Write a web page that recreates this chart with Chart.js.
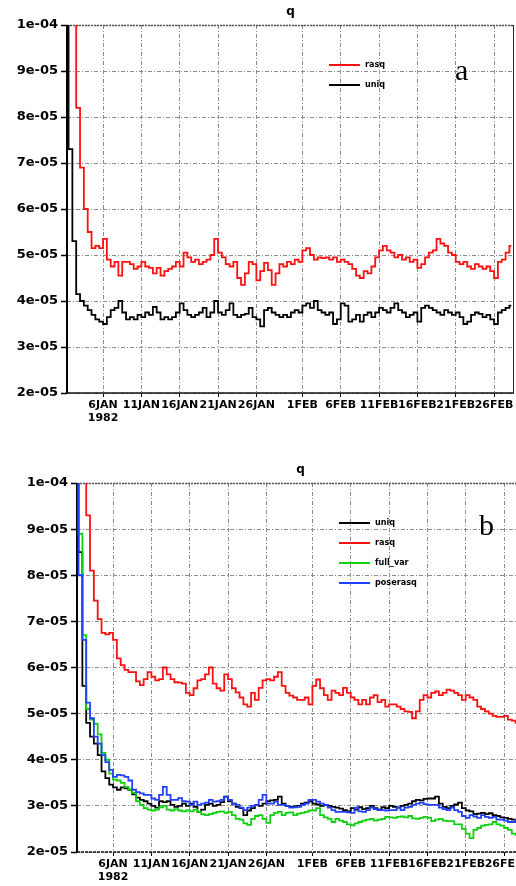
<!DOCTYPE html>
<html><head><meta charset="utf-8">
<script src="https://cdn.jsdelivr.net/npm/chart.js@4/dist/chart.umd.min.js"></script>
<style>
html,body{margin:0;padding:0;background:#fff;overflow:hidden;width:516px;height:886px}
#wrap{position:relative;width:516px;height:886px;overflow:hidden;background:#fff}
canvas{position:absolute;left:0}
#ca{top:0}
#cb{top:440px}
</style></head><body>
<div id="wrap"><canvas id="ca" width="516" height="430"></canvas><canvas id="cb" width="530" height="446"></canvas></div>
<script>
// values below are given in units of 1e-5 (specific humidity q)
const UNIT = 1e-5;
// sampling: every 12 h, first sample at day 0.25 after 1 JAN 1982 00Z
const START_DAY = 0.25, STEP_DAY = 0.5;
const X_MIN = 0.3, X_MAX = 58.6;
const TICK_DAYS = [5, 10, 15, 20, 25, 31, 36, 41, 46, 51, 56];
const TICK_LABELS = [['6JAN', '1982'], '11JAN', '16JAN', '21JAN', '26JAN', '1FEB', '6FEB', '11FEB', '16FEB', '21FEB', '26FEB'];
const Y_TICK_VALUES = [2e-5, 3e-5, 4e-5, 5e-5, 6e-5, 7e-5, 8e-5, 9e-5, 1e-4];
const Y_TICK_LABELS = ['2e-05', '3e-05', '4e-05', '5e-05', '6e-05', '7e-05', '8e-05', '9e-05', '1e-04'];
const TITLE = 'q';

// panel a
const A_NAMES = ['rasq', 'uniq'];
const A_RASQ = [12, 11, 10.1, 8.2, 6.9, 6.0, 5.5, 5.15, 5.2, 5.15,
  5.35, 4.9, 4.75, 4.85, 4.55, 4.85, 4.85, 4.8, 4.7, 4.75,
  4.85, 4.75, 4.72, 4.6, 4.72, 4.55, 4.65, 4.7, 4.75, 4.85,
  4.75, 5.05, 4.95, 4.85, 4.9, 4.8, 4.85, 4.9, 5.0, 5.35,
  5.05, 4.95, 4.8, 4.75, 4.85, 4.5, 4.35, 4.6, 4.85, 4.8,
  4.45, 4.65, 4.83, 4.67, 4.35, 4.6, 4.8, 4.75, 4.85, 4.8,
  4.9, 4.85, 5.1, 5.15, 5.0, 4.9, 4.95, 4.93, 4.95, 4.9,
  4.95, 4.85, 4.9, 4.85, 4.8, 4.7, 4.55, 4.5, 4.65, 4.6,
  4.75, 4.95, 5.1, 5.2, 5.1, 5.05, 4.95, 5.0, 4.9, 4.95,
  4.85, 4.9, 4.72, 4.8, 4.95, 5.05, 5.1, 5.35, 5.25, 5.2,
  5.05, 5.0, 4.85, 4.8, 4.85, 4.75, 4.7, 4.8, 4.75, 4.7,
  4.75, 4.65, 4.5, 4.85, 4.9, 5.05, 5.2];
const A_UNIQ = [11, 7.3, 5.3, 4.15, 4.0, 3.9, 3.8, 3.7, 3.6, 3.55,
  3.5, 3.65, 3.8, 3.85, 4.0, 3.75, 3.6, 3.65, 3.6, 3.7,
  3.65, 3.75, 3.7, 3.87, 3.75, 3.6, 3.65, 3.6, 3.65, 3.75,
  3.95, 3.8, 3.7, 3.65, 3.7, 3.75, 3.85, 3.65, 3.75, 4.0,
  3.75, 3.7, 3.8, 3.95, 3.7, 3.65, 3.7, 3.72, 3.85, 3.65,
  3.6, 3.45, 3.8, 3.85, 3.75, 3.7, 3.65, 3.7, 3.65, 3.75,
  3.8, 3.75, 3.9, 3.95, 3.85, 4.0, 3.8, 3.75, 3.7, 3.75,
  3.5, 3.6, 3.95, 3.9, 3.55, 3.6, 3.7, 3.55, 3.7, 3.75,
  3.65, 3.75, 3.85, 3.8, 3.75, 3.85, 3.95, 3.8, 3.75, 3.65,
  3.7, 3.75, 3.55, 3.85, 3.9, 3.85, 3.8, 3.75, 3.7, 3.8,
  3.75, 3.7, 3.75, 3.65, 3.5, 3.55, 3.7, 3.75, 3.72, 3.65,
  3.7, 3.6, 3.5, 3.75, 3.8, 3.85, 3.9];

// panel b
const B_NAMES = ['uniq', 'rasq', 'full_var', 'poserasq'];
const B_UNIQ = [12, 8.5, 5.6, 4.8, 4.5, 4.35, 4.1, 3.75, 3.6, 3.46,
  3.4, 3.35, 3.4, 3.38, 3.35, 3.25, 3.18, 3.13, 3.1, 3.05,
  3.0, 2.96, 3.1, 3.08, 3.1, 3.02, 2.98, 3.0, 3.05, 3.0,
  3.05, 2.98, 2.87, 2.92, 3.02, 3.05, 3.0, 3.02, 3.08, 3.2,
  3.1, 3.05, 2.98, 2.95, 2.8, 2.9, 2.95, 3.02, 3.0, 3.05,
  3.1, 3.12, 3.13, 3.2, 3.05, 3.0, 2.98, 2.99, 3.0, 3.05,
  3.07, 3.1, 3.05, 3.03, 3.0, 3.02, 3.0, 2.98, 2.96, 2.94,
  2.91, 2.88, 2.95, 2.92, 2.97, 2.93, 2.95, 3.0, 2.95, 2.92,
  2.97, 2.95, 3.0, 2.98, 2.96, 3.0, 3.02, 3.05, 3.1, 3.13,
  3.12, 3.15, 3.16, 3.16, 3.2, 3.05, 2.98, 2.95, 3.0, 3.03,
  3.07, 2.95, 2.9, 2.88, 2.82, 2.83, 2.85, 2.82, 2.84, 2.8,
  2.78, 2.75, 2.74, 2.72, 2.7, 2.7, 2.68];
const B_RASQ = [13, 12, 11, 9.3, 8.1, 7.45, 7.05, 6.75, 6.72, 6.75,
  6.6, 6.2, 6.05, 5.95, 5.9, 5.9, 5.7, 5.62, 5.75, 5.9,
  5.8, 5.72, 5.75, 6.0, 5.85, 5.75, 5.68, 5.67, 5.65, 5.45,
  5.4, 5.55, 5.72, 5.75, 5.85, 6.0, 5.65, 5.55, 5.5, 5.85,
  5.75, 5.55, 5.46, 5.35, 5.2, 5.15, 5.45, 5.3, 5.56, 5.72,
  5.75, 5.72, 5.8, 5.9, 5.6, 5.45, 5.39, 5.35, 5.3, 5.3,
  5.35, 5.2, 5.6, 5.74, 5.55, 5.4, 5.3, 5.5, 5.45, 5.4,
  5.56, 5.45, 5.35, 5.3, 5.2, 5.3, 5.2, 5.35, 5.4, 5.25,
  5.3, 5.15, 5.2, 5.2, 5.15, 5.1, 5.05, 5.04, 4.9, 5.05,
  5.3, 5.4, 5.35, 5.45, 5.48, 5.4, 5.45, 5.52, 5.5, 5.45,
  5.4, 5.3, 5.4, 5.35, 5.3, 5.15, 5.1, 5.05, 5.0, 4.95,
  4.93, 4.93, 4.95, 4.87, 4.85, 4.8, 4.78];
const B_FULLVAR = [11, 8.9, 6.7, 5.1, 4.87, 4.78, 4.55, 4.15, 4.0, 3.7,
  3.57, 3.55, 3.5, 3.41, 3.35, 3.28, 3.1, 3.02, 2.95, 2.92,
  2.9, 2.92, 2.97, 3.0, 2.92, 2.9, 2.93, 2.9, 2.88, 2.9,
  2.88, 2.92, 2.87, 2.82, 2.8, 2.82, 2.85, 2.87, 2.88, 2.85,
  2.87, 2.8, 2.72, 2.7, 2.62, 2.59, 2.72, 2.78, 2.8, 2.72,
  2.63, 2.8, 2.85, 2.87, 2.8, 2.85, 2.86, 2.8, 2.83, 2.85,
  2.87, 2.9, 2.9, 2.95, 2.8, 2.75, 2.72, 2.65, 2.72, 2.68,
  2.65, 2.6, 2.58, 2.62, 2.65, 2.68, 2.7, 2.72, 2.68, 2.7,
  2.72, 2.76, 2.75, 2.74, 2.76, 2.77, 2.75, 2.78, 2.73, 2.72,
  2.74, 2.76, 2.74, 2.67, 2.7, 2.72, 2.68, 2.67, 2.67, 2.6,
  2.6, 2.5, 2.4, 2.3, 2.48, 2.52, 2.57, 2.59, 2.6, 2.65,
  2.6, 2.57, 2.52, 2.48, 2.4, 2.37, 2.4];
const B_POSERASQ = [11, 8.0, 6.6, 5.24, 4.9, 4.5, 4.35, 4.1, 3.95, 3.78,
  3.63, 3.67, 3.66, 3.63, 3.55, 3.35, 3.3, 3.27, 3.24, 3.24,
  3.16, 3.13, 3.24, 3.41, 3.24, 3.13, 3.13, 3.17, 3.1, 3.09,
  3.02, 3.09, 3.02, 3.05, 3.07, 3.13, 3.09, 3.1, 3.13, 3.2,
  3.13, 3.05, 3.02, 2.96, 2.91, 2.96, 3.0, 3.02, 3.13, 3.24,
  3.05, 3.05, 3.09, 3.02, 3.02, 3.0, 2.96, 2.97, 2.98, 3.02,
  3.05, 3.13, 3.13, 3.09, 3.05, 3.02, 2.96, 2.91, 2.87, 2.87,
  2.87, 2.86, 2.85, 2.96, 2.88, 2.87, 2.91, 2.96, 2.93, 2.91,
  2.91, 2.9, 2.91, 2.91, 2.96, 2.91, 2.96, 2.98, 3.02, 3.05,
  3.07, 3.04, 3.02, 3.02, 3.02, 2.96, 2.93, 2.91, 2.96, 2.91,
  2.87, 2.78, 2.74, 2.8, 2.77, 2.74, 2.8, 2.76, 2.74, 2.76,
  2.7, 2.7, 2.68, 2.65, 2.65, 2.7, 2.7];

const COLORS = {uniq: '#000000', rasq: '#ff1010', full_var: '#10d010', poserasq: '#2040ff'};

function toPoints(arr) {
  return arr.map((v, i) => ({x: START_DAY + STEP_DAY * i, y: v * UNIT}));
}

const GRID_COLOR = '#8c8c8c';
const GRID_DASH = [4, 2, 1, 2];

function decor(opts) {
  return {
    id: 'decor',
    beforeDatasetsDraw(chart) {
      const {ctx, chartArea: a} = chart;
      ctx.save();
      ctx.strokeStyle = '#555'; ctx.lineWidth = 1.5; ctx.setLineDash([2, 1]);
      ctx.beginPath(); ctx.moveTo(a.left, a.top + 0.5); ctx.lineTo(a.right, a.top + 0.5); ctx.stroke();
      ctx.setLineDash(opts.bottomDash);
      ctx.strokeStyle = '#111'; ctx.lineWidth = 1.5;
      ctx.beginPath(); ctx.moveTo(a.left, a.bottom); ctx.lineTo(a.right, a.bottom); ctx.stroke();
      ctx.setLineDash([]);
      ctx.strokeStyle = '#222'; ctx.lineWidth = 1;
      ctx.beginPath(); ctx.moveTo(a.right - 0.5, a.top); ctx.lineTo(a.right - 0.5, a.bottom); ctx.stroke();
      ctx.strokeStyle = '#000'; ctx.lineWidth = 2;
      ctx.beginPath(); ctx.moveTo(a.left, a.top); ctx.lineTo(a.left, a.bottom); ctx.stroke();
      ctx.restore();
    },
    afterDraw(chart) {
      const {ctx, chartArea: a} = chart;
      ctx.save();
      ctx.fillStyle = '#000';
      ctx.font = 'bold 12px "DejaVu Sans"';
      ctx.textAlign = 'center'; ctx.textBaseline = 'middle';
      ctx.fillText(TITLE, (a.left + a.right) / 2, opts.titleY);
      ctx.font = '30px "Liberation Serif"';
      ctx.textAlign = 'left'; ctx.textBaseline = 'alphabetic';
      ctx.fillText(opts.letter, opts.letterX, opts.letterY);
      // legend
      ctx.font = 'bold 9px "DejaVu Sans Condensed"';
      ctx.textBaseline = 'middle';
      chart.data.datasets.forEach((ds, i) => {
        const y = opts.legY + i * opts.legStep;
        ctx.strokeStyle = ds.borderColor; ctx.lineWidth = 2;
        ctx.beginPath(); ctx.moveTo(opts.legX, y); ctx.lineTo(opts.legX + 31, y); ctx.stroke();
        ctx.fillStyle = '#000';
        ctx.fillText(ds.label, opts.legX + 36, y);
      });
      ctx.restore();
    }
  };
}

function makeChart(id, names, series, orders, yWidth, xHeight, pad, opts) {
  return new Chart(document.getElementById(id), {
    type: 'line',
    data: {
      datasets: names.map((n, i) => ({
        label: n, data: toPoints(series[i]), borderColor: COLORS[n], backgroundColor: COLORS[n],
        borderWidth: 1.8, pointRadius: 0, stepped: 'middle', fill: false, clip: 0, order: orders[i]
      }))
    },
    options: {
      responsive: false, animation: false, devicePixelRatio: 1,
      layout: {padding: pad},
      plugins: {legend: {display: false}, tooltip: {enabled: false}, title: {display: false}},
      scales: {
        x: {
          type: 'linear', min: X_MIN, max: X_MAX,
          afterBuildTicks: s => { s.ticks = TICK_DAYS.map(v => ({value: v})); },
          afterFit: s => { s.height = xHeight; },
          grid: {color: GRID_COLOR, lineWidth: 1, drawTicks: true, tickLength: 4, tickColor: '#000', tickWidth: 1},
          border: {display: false, dash: GRID_DASH},
          ticks: {
            autoSkip: false, maxRotation: 0, minRotation: 0, padding: 2, color: '#000',
            font: {family: 'DejaVu Sans', weight: 'bold', size: 11, lineHeight: 1.15},
            callback: v => TICK_LABELS[TICK_DAYS.indexOf(v)]
          }
        },
        y: {
          type: 'linear', min: Y_TICK_VALUES[0], max: Y_TICK_VALUES[Y_TICK_VALUES.length - 1],
          afterBuildTicks: s => { s.ticks = Y_TICK_VALUES.map(v => ({value: v})); },
          afterFit: s => { s.width = yWidth; },
          grid: {color: GRID_COLOR, lineWidth: 1, drawTicks: true, tickLength: 6, tickColor: '#000', tickWidth: 1.5},
          border: {display: false, dash: GRID_DASH},
          ticks: {
            padding: 3, color: '#000',
            font: {family: 'DejaVu Sans', weight: 'bold', size: 13},
            callback: (v, i) => Y_TICK_LABELS[Y_TICK_VALUES.indexOf(v)]
          }
        }
      }
    },
    plugins: [decor(opts)]
  });
}

makeChart('ca', A_NAMES, [A_RASQ, A_UNIQ], [0, 1], 67, 37, {top: 25, right: 2, left: 0, bottom: 0},
  {titleY: 12, letter: 'a', letterX: 455, letterY: 80, legX: 329, legY: 65, legStep: 20, bottomDash: []});
makeChart('cb', B_NAMES, [B_UNIQ, B_RASQ, B_FULLVAR, B_POSERASQ], [3, 2, 1, 0], 77, 34, {top: 43, right: 6, left: 0, bottom: 0},
  {titleY: 30, letter: 'b', letterX: 479, letterY: 95, legX: 339, legY: 83, legStep: 20, bottomDash: [3, 1]});
</script>
</body></html>
